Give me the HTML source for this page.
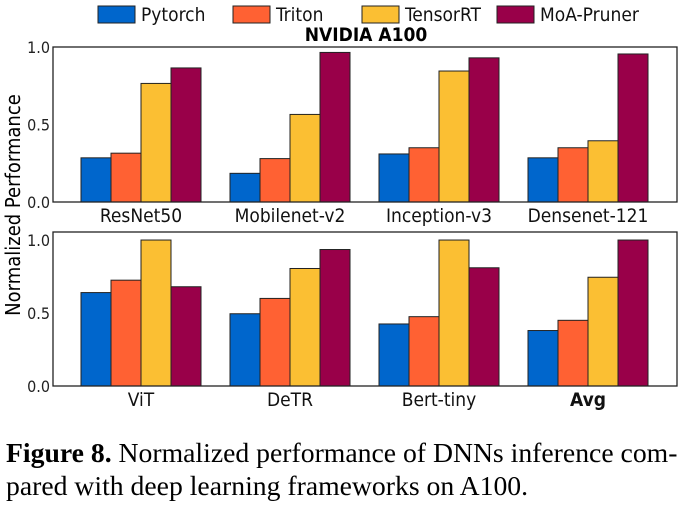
<!DOCTYPE html>
<html><head><meta charset="utf-8"><style>
body{margin:0;background:#fff;width:691px;height:507px;overflow:hidden}
svg text{font-family:"DejaVu Sans Condensed","DejaVu Sans","Liberation Sans",sans-serif}
.cap{position:absolute;left:6px;top:436px;font-family:"Liberation Serif",serif;font-size:27.7px;line-height:33px;color:#000;width:690px;white-space:nowrap}
</style></head><body>
<svg id="c" width="691" height="440" style="position:absolute;left:0;top:0"></svg>
<div class="cap"><b>Figure 8.</b> Normalized performance of DNNs inference com-<br>pared with deep learning frameworks on A100.</div>
<script>
const series=["Pytorch","Triton","TensorRT","MoA-Pruner"];
const colors=["#0066cc","#ff6133","#fbbf33","#990049"];
const topCats=["ResNet50","Mobilenet-v2","Inception-v3","Densenet-121"];
const botCats=["ViT","DeTR","Bert-tiny","Avg"];
const topVals=[[0.285,0.315,0.765,0.865],[0.185,0.28,0.565,0.965],[0.31,0.35,0.845,0.93],[0.285,0.35,0.395,0.955]];
const botVals=[[0.64,0.725,1.0,0.68],[0.495,0.60,0.805,0.935],[0.425,0.475,1.0,0.81],[0.38,0.45,0.745,1.0]];
const yTicks=[0,0.5,1.0];
const NS="http://www.w3.org/2000/svg";
const svg=document.getElementById('c');
function mk(t,a,p){const e=document.createElementNS(NS,t);for(const k in a)e.setAttribute(k,a[k]);(p||svg).appendChild(e);return e;}
function panel(name,cats,vals,top,bottom,ymax){
  const L=53,R=677;
  const g=mk('g',{});
  
  
  const y=v=>bottom-(v/ymax)*(bottom-top);
  const x=i=>141+i*149;
  vals.forEach((grp,i)=>grp.forEach((v,j)=>{
    const r=mk('rect',{x:x(i)-60+j*30,y:y(v),width:30,height:bottom-y(v),fill:colors[j],stroke:'#222','stroke-width':1},g);
    
    
  }));
  const f=mk('rect',{x:L,y:top,width:R-L,height:bottom-top,fill:'none',stroke:'#222','stroke-width':1.3},g);
  
  
  yTicks.forEach(t=>{
    const tx=mk('text',{x:L-3,y:y(t)+6,'text-anchor':'end','font-size':16,fill:'#222'},g);tx.textContent=t.toFixed(1);
    
    
  });
  cats.forEach((c,i)=>{
    const tx=mk('text',{x:x(i),y:bottom+20,'text-anchor':'middle','font-size':19,fill:'#111','font-weight':c==='Avg'?'bold':'normal'},g);tx.textContent=c;
    
    
  });
}
panel('top-panel',topCats,topVals,47,202,1.0);
panel('bottom-panel',botCats,botVals,232,386,1.055);
const t=mk('text',{x:366,y:41,'text-anchor':'middle','font-size':19,'font-weight':'bold'});t.textContent='NVIDIA A100';


const yt=mk('text',{x:0,y:0,'text-anchor':'middle','font-size':20,transform:'translate(20,205) rotate(-90)'});yt.textContent='Normalized Performance';


const lx=[98,233,362,497];
series.forEach((s,j)=>{
  const r=mk('rect',{x:lx[j],y:6,width:37,height:17,fill:colors[j],stroke:'#222','stroke-width':1});
  
  
  const tx=mk('text',{x:lx[j]+43,y:21,'font-size':19,fill:'#111'});tx.textContent=s;
  
  
});
</script>
</body></html>
